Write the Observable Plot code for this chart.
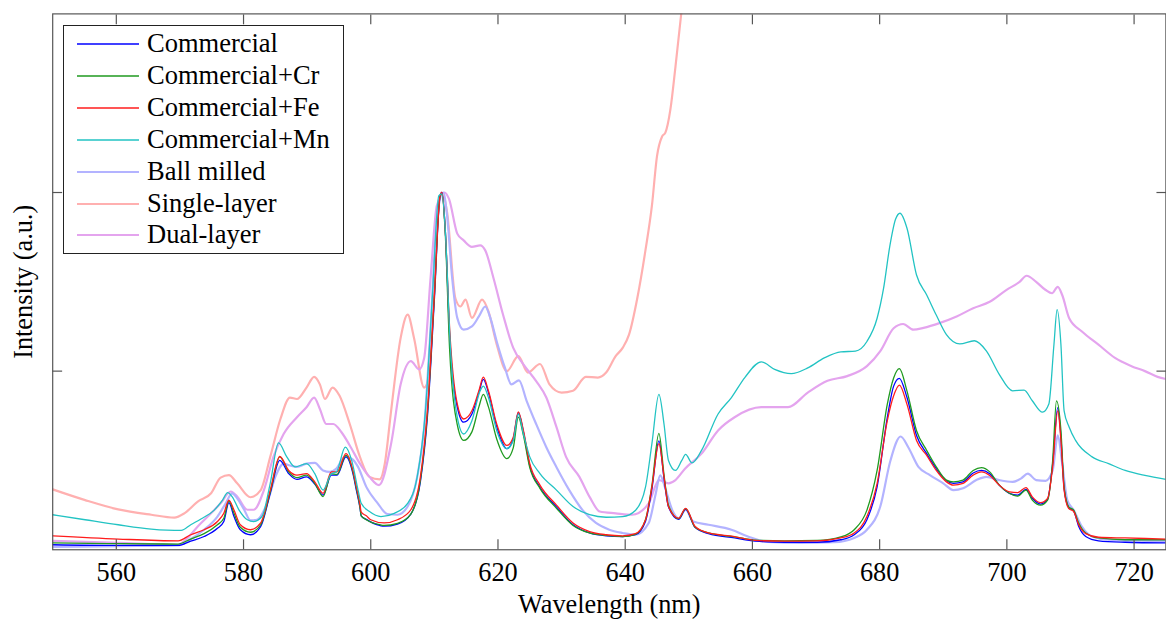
<!DOCTYPE html>
<html><head><meta charset="utf-8">
<script src="https://cdn.jsdelivr.net/npm/d3@7"></script>
<script src="https://cdn.jsdelivr.net/npm/@observablehq/plot@0.6"></script>
<style>
html,body{margin:0;padding:0;background:#fff;overflow:hidden;}
#wrap{position:relative;width:1166px;height:621px;overflow:hidden;}
#legend{position:absolute;left:63px;top:25px;width:279px;height:227px;border:1px solid #222;background:#fff;font-family:'Liberation Serif','DejaVu Serif',serif;font-size:26.5px;color:#000;}
#legend .row{position:absolute;left:0;height:32px;width:279px;}
#legend svg{position:absolute;left:0;top:0;}
#legend span{position:absolute;left:83px;top:50%;transform:translateY(-52%);white-space:nowrap;line-height:1;}
svg text{font-family:'Liberation Serif','DejaVu Serif',serif;}
</style></head><body><div id="wrap"><div id="chart"></div><div id="legend"></div></div>
<script>
// ---- data (wavelength in nm, normalized intensity) ----
const xTicks = [560, 580, 600, 620, 640, 660, 680, 700, 720];
const yTicks = [0.5, 1.0];

const commercialNm = [550,560.3,569.7,571.7,573.8,575.9,576.9,577.7,578.5,579.5,581.1,582.7,584.2,585.7,587.1,588.4,589.9,591.2,592.5,593.8,594.7,596.1,597.2,597.7,598.3,598.5,599.3,601.4,602.1,604.2,606.3,607.8,608.9,610.0,610.9,611.2,611.7,612.4,613.6,614.6,615.9,617.0,617.7,618.5,619.8,621.4,622.4,623.2,624.0,625.0,626.6,629.2,631.8,634.4,637.0,639.6,641.6,643.2,644.2,645.3,646.1,646.8,648.4,649.5,651.0,653.1,657.2,660.4,665.0,670.2,673.9,676.0,678.0,679.6,681.2,682.2,683.1,684.3,685.8,687.4,688.9,690.5,691.6,693.1,694.7,696.0,697.3,698.8,700.4,701.7,703.0,704.0,705.3,706.4,707.2,708.0,708.5,709.0,709.7,710.5,711.3,712.4,714.4,718.6,725];
const commercialI = [0.014,0.012,0.012,0.024,0.037,0.060,0.079,0.132,0.093,0.056,0.042,0.065,0.158,0.250,0.213,0.197,0.204,0.184,0.153,0.209,0.209,0.260,0.213,0.170,0.118,0.095,0.085,0.068,0.066,0.072,0.100,0.190,0.370,0.700,0.990,1.000,0.900,0.600,0.400,0.357,0.380,0.440,0.477,0.440,0.345,0.283,0.310,0.384,0.330,0.235,0.175,0.120,0.070,0.047,0.039,0.037,0.042,0.080,0.170,0.305,0.200,0.120,0.085,0.113,0.062,0.045,0.033,0.024,0.021,0.021,0.028,0.042,0.084,0.176,0.370,0.458,0.480,0.426,0.320,0.269,0.227,0.193,0.186,0.190,0.215,0.222,0.213,0.181,0.158,0.153,0.169,0.144,0.128,0.141,0.241,0.398,0.315,0.171,0.119,0.109,0.065,0.037,0.025,0.021,0.019];

const crNm = [550,560.3,569.7,571.7,573.8,575.9,576.9,577.7,578.5,579.5,581.1,582.7,584.2,585.7,587.1,588.4,589.9,591.2,592.5,593.8,594.7,596.1,597.2,597.7,598.3,598.5,599.3,601.4,602.1,604.2,606.3,607.8,608.9,610.0,610.9,611.2,611.7,612.4,613.6,614.6,615.9,617.0,617.7,618.5,619.8,621.4,622.4,623.2,624.0,625.0,626.6,629.2,631.8,634.4,637.0,639.6,641.6,643.2,644.2,645.3,646.1,646.8,648.4,649.5,651.0,653.1,657.2,660.4,665.0,670.2,673.9,676.0,678.0,679.6,681.2,682.2,683.1,684.3,685.8,687.4,688.9,690.5,691.6,693.1,694.7,696.0,697.3,698.8,700.4,701.7,703.0,704.0,705.3,706.4,707.2,707.8,708.5,709.0,709.7,710.5,711.3,712.4,714.4,718.6,725];
const crI = [0.019,0.017,0.016,0.030,0.045,0.070,0.088,0.137,0.102,0.063,0.049,0.070,0.162,0.260,0.218,0.202,0.209,0.186,0.149,0.213,0.211,0.264,0.218,0.175,0.120,0.095,0.084,0.070,0.068,0.074,0.100,0.195,0.380,0.710,0.990,0.995,0.890,0.560,0.350,0.306,0.330,0.400,0.435,0.400,0.310,0.255,0.285,0.371,0.320,0.230,0.172,0.116,0.068,0.047,0.040,0.037,0.043,0.085,0.180,0.326,0.210,0.125,0.087,0.115,0.063,0.047,0.036,0.027,0.025,0.026,0.036,0.056,0.111,0.222,0.407,0.481,0.507,0.444,0.333,0.278,0.232,0.195,0.190,0.195,0.222,0.230,0.218,0.181,0.158,0.150,0.167,0.139,0.125,0.139,0.250,0.417,0.334,0.176,0.121,0.111,0.075,0.047,0.033,0.028,0.028];

const feNm = [550,560.3,569.7,571.7,573.8,575.9,576.9,577.7,578.5,579.5,581.1,582.7,584.2,585.7,587.1,588.4,589.9,591.2,592.5,593.8,594.7,596.1,597.2,597.7,598.3,598.5,599.3,600.0,602.1,604.2,606.3,607.8,608.9,610.0,610.9,611.2,611.7,612.4,613.6,614.6,615.9,617.0,617.7,618.5,619.8,621.4,622.4,623.2,624.0,625.0,626.6,629.2,631.8,634.4,637.0,639.6,641.6,643.2,644.2,645.3,646.1,646.8,648.4,649.5,651.0,653.1,657.2,660.4,665.0,670.2,673.9,676.0,678.0,679.6,681.2,682.2,683.1,684.3,685.8,687.4,688.9,690.5,691.6,693.1,694.7,696.0,697.3,698.8,700.4,701.7,703.0,704.0,705.3,706.4,707.2,708.0,708.5,709.0,709.7,710.5,711.3,712.4,714.4,718.6,725];
const feI = [0.039,0.030,0.025,0.042,0.056,0.079,0.102,0.139,0.111,0.070,0.056,0.075,0.167,0.261,0.222,0.209,0.213,0.190,0.158,0.218,0.218,0.269,0.222,0.180,0.128,0.105,0.095,0.084,0.075,0.084,0.112,0.204,0.389,0.713,0.991,1.000,0.900,0.620,0.408,0.366,0.389,0.445,0.483,0.445,0.352,0.292,0.315,0.386,0.334,0.241,0.181,0.125,0.075,0.051,0.042,0.039,0.045,0.084,0.176,0.297,0.204,0.121,0.088,0.116,0.065,0.047,0.037,0.026,0.024,0.025,0.033,0.047,0.093,0.185,0.361,0.431,0.461,0.407,0.306,0.264,0.222,0.190,0.181,0.186,0.209,0.218,0.208,0.181,0.162,0.160,0.174,0.148,0.132,0.144,0.232,0.389,0.306,0.167,0.116,0.107,0.070,0.045,0.035,0.033,0.030];

const mnNm = [550,555.1,560.3,565.5,570.2,571.7,573.3,575.4,576.7,577.5,578.2,579.3,580.6,581.6,582.9,584.2,585.5,586.8,588.1,589.9,591.2,592.5,593.8,594.6,596.0,597.0,598.0,598.5,599.8,601.6,603.7,605.8,607.3,608.6,609.7,610.7,611.2,611.7,612.5,613.6,614.6,615.9,617.2,617.7,618.5,619.8,621.4,622.4,623.2,624.0,625.0,626.6,629.2,631.8,634.4,637.0,639.6,641.6,643.2,644.2,645.3,646.1,646.8,647.9,648.9,649.5,650.5,652.0,654.6,656.7,658.8,661.4,663.5,666.1,668.7,671.3,673.9,676.2,678.0,679.6,680.6,681.6,682.5,683.2,684.3,685.8,687.4,688.9,690.5,692.6,694.9,696.8,698.8,700.9,702.7,704.0,705.6,706.6,707.4,707.9,708.5,709.0,709.8,710.8,713.4,716.0,718.6,721.7,725];
const mnI = [0.098,0.084,0.070,0.058,0.054,0.070,0.086,0.111,0.139,0.160,0.149,0.111,0.084,0.079,0.093,0.186,0.299,0.260,0.232,0.241,0.213,0.167,0.213,0.218,0.287,0.250,0.167,0.130,0.107,0.093,0.102,0.130,0.204,0.389,0.713,0.991,0.996,0.900,0.574,0.371,0.324,0.361,0.445,0.458,0.426,0.334,0.283,0.306,0.380,0.324,0.260,0.213,0.167,0.121,0.098,0.091,0.093,0.110,0.176,0.297,0.435,0.352,0.250,0.222,0.250,0.267,0.243,0.278,0.380,0.426,0.482,0.526,0.505,0.493,0.509,0.537,0.554,0.556,0.583,0.648,0.730,0.850,0.925,0.942,0.900,0.769,0.713,0.657,0.602,0.576,0.585,0.556,0.491,0.445,0.447,0.417,0.385,0.408,0.574,0.672,0.574,0.389,0.343,0.306,0.260,0.241,0.222,0.208,0.197];

const ballNm = [550,560.3,569.7,571.7,573.8,575.9,577.2,578.2,579.0,580.1,581.1,582.1,583.7,585.0,586.3,587.3,588.4,589.9,591.2,592.5,593.6,594.6,595.9,597.0,598.0,599.3,601.1,602.6,604.2,605.8,607.3,608.4,609.4,610.4,611.4,612.0,612.8,613.6,614.6,615.9,617.0,618.0,618.8,619.8,621.1,622.1,623.3,624.5,626.0,627.6,629.2,631.2,633.3,635.4,637.5,639.6,641.6,643.7,644.8,645.5,646.3,647.4,648.4,649.5,650.7,653.1,656.7,659.3,662.4,667.6,672.8,676.0,678.0,680.1,681.7,683.3,684.5,686.1,687.9,690.0,691.6,693.1,695.2,696.8,698.8,700.9,702.2,703.3,704.6,706.1,707.2,708.0,708.7,709.5,710.5,711.8,713.4,716.0,725];
const ballI = [0.008,0.010,0.012,0.030,0.056,0.093,0.130,0.158,0.144,0.112,0.082,0.084,0.130,0.204,0.241,0.236,0.232,0.241,0.243,0.222,0.218,0.227,0.260,0.255,0.232,0.176,0.130,0.100,0.098,0.121,0.204,0.343,0.620,0.926,1.000,0.935,0.760,0.649,0.616,0.625,0.653,0.681,0.649,0.583,0.509,0.463,0.474,0.417,0.352,0.287,0.231,0.167,0.111,0.075,0.056,0.047,0.042,0.075,0.157,0.208,0.172,0.111,0.088,0.112,0.079,0.070,0.056,0.037,0.022,0.019,0.021,0.033,0.056,0.121,0.250,0.317,0.287,0.232,0.209,0.186,0.167,0.172,0.195,0.204,0.195,0.190,0.199,0.213,0.195,0.193,0.222,0.320,0.241,0.139,0.111,0.065,0.037,0.028,0.024];

const singleNm = [550,555.1,560.3,565.5,569.1,570.7,572.8,574.9,576.4,577.7,579.0,581.1,582.7,584.2,585.8,587.3,588.4,589.9,591.1,592.0,592.8,594.0,595.1,596.7,598.3,599.8,601.4,602.2,603.2,604.7,605.8,606.8,608.4,609.1,610.2,611.1,612.0,613.3,614.1,614.9,615.9,617.5,618.5,619.8,621.4,623.2,624.7,626.6,628.1,630.0,631.8,633.8,635.7,637.0,638.5,639.6,640.6,641.9,643.2,644.2,645.0,645.8,646.3,647.1,647.9,648.8,649.6];
const singleI = [0.169,0.139,0.113,0.098,0.090,0.102,0.135,0.158,0.202,0.209,0.186,0.147,0.167,0.260,0.366,0.426,0.422,0.454,0.484,0.463,0.422,0.454,0.431,0.352,0.260,0.204,0.197,0.240,0.389,0.593,0.658,0.593,0.454,0.482,0.852,1.000,0.945,0.704,0.681,0.700,0.649,0.700,0.667,0.575,0.500,0.542,0.496,0.520,0.463,0.440,0.445,0.484,0.482,0.496,0.542,0.565,0.602,0.704,0.840,0.963,1.102,1.157,1.167,1.232,1.352,1.499,1.640];

const dualNm = [550,560.3,569.7,571.2,572.8,574.9,576.4,578.0,579.0,580.6,581.6,583.2,584.7,586.3,588.4,589.9,591.1,592.0,593.0,594.1,595.4,596.7,598.3,599.8,601.3,603.2,604.7,606.3,607.6,608.4,609.4,610.4,611.6,612.3,613.6,614.6,615.9,617.2,618.0,619.3,620.8,622.4,624.0,626.0,627.6,629.2,630.7,632.8,634.4,636.0,638.5,641.1,643.7,645.3,646.8,647.9,649.4,652.0,654.6,657.2,661.4,665.6,668.7,671.8,674.9,678.0,680.1,682.2,683.7,685.3,686.9,689.5,692.1,694.7,697.3,699.9,702.0,703.1,704.6,706.1,707.1,708.0,708.7,709.8,711.8,714.4,717.0,719.6,721.7,723.7,725];
const dualI = [0.025,0.019,0.014,0.033,0.065,0.102,0.130,0.163,0.149,0.112,0.112,0.167,0.260,0.324,0.371,0.399,0.426,0.394,0.352,0.352,0.329,0.292,0.241,0.204,0.181,0.297,0.463,0.528,0.505,0.537,0.760,0.964,1.000,0.982,0.885,0.866,0.848,0.852,0.838,0.760,0.658,0.565,0.519,0.472,0.426,0.343,0.260,0.204,0.148,0.107,0.102,0.098,0.130,0.195,0.186,0.195,0.227,0.269,0.334,0.371,0.399,0.399,0.440,0.473,0.486,0.514,0.556,0.620,0.632,0.616,0.621,0.635,0.653,0.676,0.694,0.727,0.750,0.767,0.750,0.727,0.718,0.736,0.713,0.648,0.611,0.574,0.537,0.514,0.500,0.484,0.478];

const seriesNames = ["Commercial","Commercial+Cr","Commercial+Fe","Commercial+Mn","Ball milled","Single-layer","Dual-layer"];
const seriesColors = ["#0000ff","#1f9a1f","#ff1c1c","#22c3c3","#b3b3ff","#ffb0b0","#e4a4ee"];
const seriesWidths = [1.3,1.3,1.3,1.3,2.2,2.2,2.2];
const seriesNm = [commercialNm, crNm, feNm, mnNm, ballNm, singleNm, dualNm];
const seriesI = [commercialI, crI, feI, mnI, ballI, singleI, dualI];
const drawOrder = [5, 6, 4, 0, 1, 2, 3];

// ---- chart ----
const font = "'Liberation Serif','DejaVu Serif',serif";
const gray = "#555";
const lineMarks = drawOrder.map(k => {
  const rows = seriesNm[k].map((x, i) => ({x, y: seriesI[k][i]}));
  return Plot.line(rows, {x: "x", y: "y", stroke: seriesColors[k], strokeWidth: seriesWidths[k], curve: "monotone-x", clip: true});
});
const blank = () => "";
const chart = Plot.plot({
  width: 1175, height: 621,
  marginLeft: 52.6, marginRight: 0.6, marginTop: 13.5, marginBottom: 67.5,
  x: {domain: [550, 725], label: null},
  y: {domain: [0, 1.5], label: null},
  style: {fontFamily: font, fontSize: "26.5px", color: "#000", background: "#fff", overflow: "visible"},
  marks: [
    ...lineMarks,
    Plot.frame({stroke: gray, strokeWidth: 1.2}),
    Plot.axisX(xTicks, {anchor: "bottom", tickSize: -10, stroke: gray, strokeWidth: 1.2, tickFormat: blank, label: null}),
    Plot.axisX(xTicks, {anchor: "top", tickSize: -10, stroke: gray, strokeWidth: 1.2, tickFormat: blank, label: null}),
    Plot.axisY(yTicks, {anchor: "left", tickSize: -10, stroke: gray, strokeWidth: 1.2, tickFormat: blank, label: null}),
    Plot.axisY(yTicks, {anchor: "right", tickSize: -10, stroke: gray, strokeWidth: 1.2, tickFormat: blank, label: null}),
    Plot.axisX(xTicks, {anchor: "bottom", tickSize: 0, tickPadding: 13, fontSize: 26.5, fill: "#000", label: null}),
    Plot.text(["Wavelength (nm)"], {text: d => d, frameAnchor: "bottom", dy: 64, lineAnchor: "bottom", textAnchor: "middle", fontSize: 26.5, fill: "#000"}),
    Plot.text(["Intensity (a.u.)"], {text: d => d, frameAnchor: "left", rotate: -90, dx: -21, lineAnchor: "bottom", textAnchor: "middle", fontSize: 26.5, fill: "#000"})
  ]
});
document.getElementById("chart").appendChild(chart);

// ---- legend ----
const legend = document.getElementById("legend");
seriesNames.forEach((name, k) => {
  const row = document.createElement("div");
  row.className = "row";
  row.style.top = (2 + k * 31.9) + "px";
  row.innerHTML = `<svg width="80" height="32"><line x1="13" x2="75" y1="16" y2="16" stroke="${seriesColors[k]}" stroke-width="${seriesWidths[k]}"/></svg><span>${name}</span>`;
  legend.appendChild(row);
});
</script></body></html>
